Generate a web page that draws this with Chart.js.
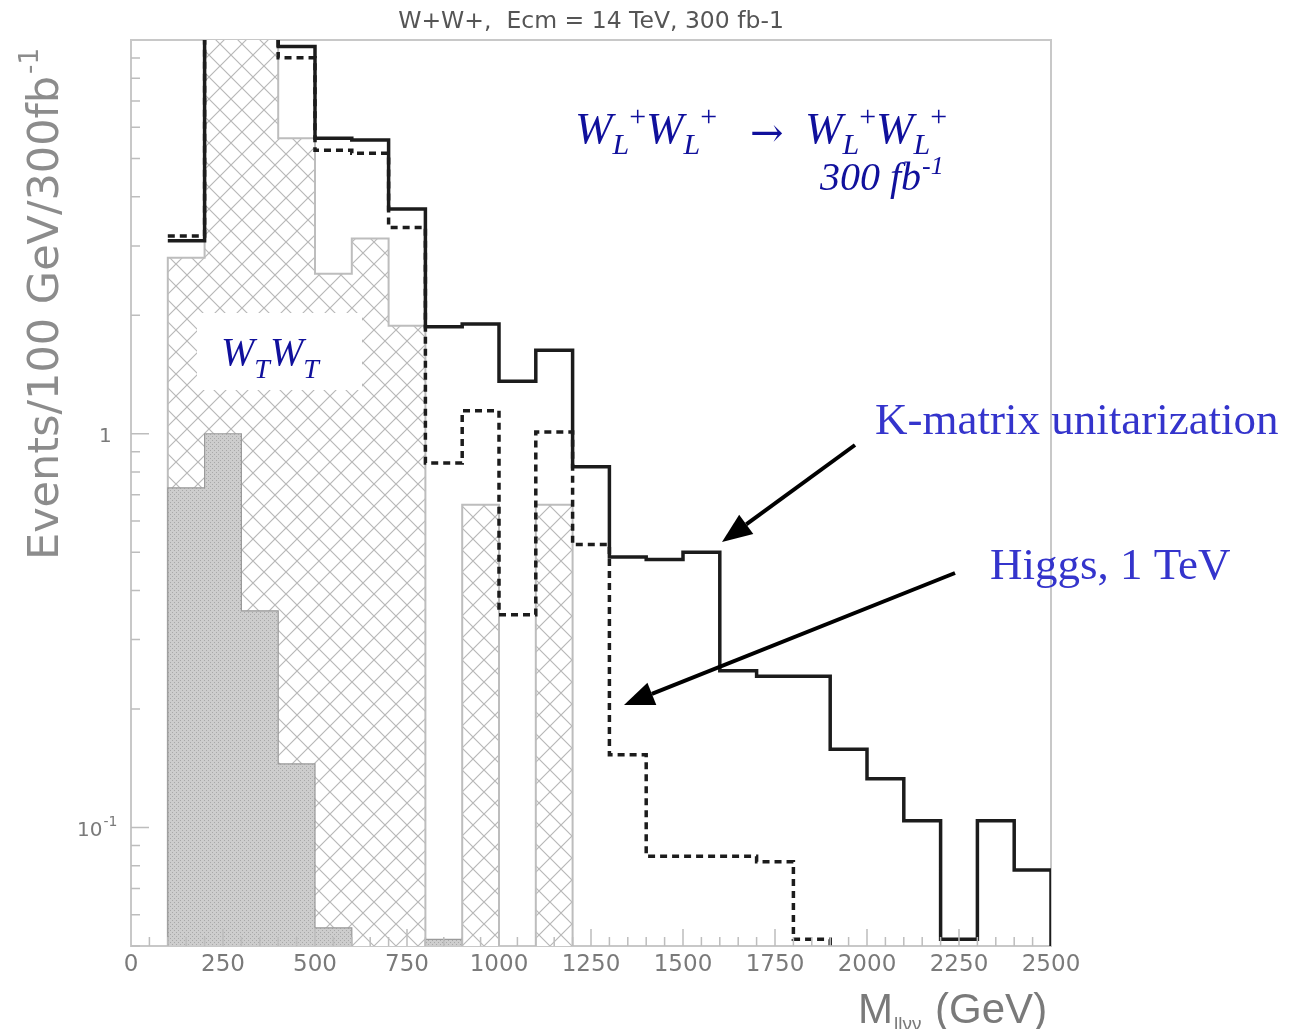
<!DOCTYPE html>
<html>
<head>
<meta charset="utf-8">
<title>W+W+ Mllvv</title>
<script src="https://cdn.jsdelivr.net/npm/chart.js@4/dist/chart.umd.min.js"></script>
<style>
  html, body { margin: 0; padding: 0; background: #fff; }
  canvas { display: block; }
</style>
</head>
<body>
<canvas id="myChart" width="1289" height="1029"></canvas>
<script>
// Bordes de los bins (GeV), bins de 100 GeV
const binEdges = [100, 200, 300, 400, 500, 600, 700, 800, 900, 1000, 1100, 1200, 1300,
  1400, 1500, 1600, 1700, 1800, 1900, 2000, 2100, 2200, 2300, 2400, 2500];

// Eventos / 100 GeV / 300 fb-1 por bin (0 = bin vacio)
const kMatrix = [3.09, 14, 12, 9.62, 5.63, 5.57, 3.72, 1.87, 1.90, 1.36, 1.63, 0.824,
  0.486, 0.479, 0.50, 0.25, 0.242, 0.242, 0.158, 0.133, 0.104, 0.052, 0.104, 0.078];
const higgs1TeV = [3.18, 13, 11, 9.02, 5.25, 5.16, 3.34, 0.843, 1.144, 0.347, 1.01, 0.523,
  0.153, 0.0845, 0.0845, 0.0845, 0.0818, 0.052, 0, 0, 0, 0, 0, 0];
const wtwt = [2.80, 11, 11, 5.63, 2.55, 3.13, 1.88, 0, 0.66, 0, 0.66, 0,
  0, 0, 0, 0, 0, 0, 0, 0, 0, 0, 0, 0];
const shaded = [0.729, 1.0, 0.355, 0.145, 0.0556, 0, 0, 0.052, 0, 0, 0, 0,
  0, 0, 0, 0, 0, 0, 0, 0, 0, 0, 0, 0];

// Ejes
const xTickValues = [0, 250, 500, 750, 1000, 1250, 1500, 1750, 2000, 2250, 2500];
const xTickLabels = ['0', '250', '500', '750', '1000', '1250', '1500', '1750', '2000', '2250', '2500'];
const yMajorTicks = [0.1, 1];
const yMinorTicks = [0.05, 0.06, 0.07, 0.08, 0.09, 0.2, 0.3, 0.4, 0.5, 0.6, 0.7, 0.8, 0.9,
  2, 3, 4, 5, 6, 7, 8, 9];

const FLOOR = 0.001; // por debajo del minimo del eje, queda recortado

// Convierte los contenidos de los bins en puntos para una linea escalonada
function toSteps(values, closeLeft) {
  const pts = [];
  if (closeLeft) pts.push({ x: binEdges[0], y: FLOOR });
  values.forEach((v, i) => pts.push({ x: binEdges[i], y: v > 0 ? v : FLOOR }));
  const last = values[values.length - 1];
  const end = binEdges[binEdges.length - 1];
  pts.push({ x: end, y: last > 0 ? last : FLOOR });
  pts.push({ x: end, y: FLOOR });
  return pts;
}

function hatchPattern() {
  const c = document.createElement('canvas');
  c.width = 22; c.height = 22;
  const g = c.getContext('2d');
  g.fillStyle = '#fff';
  g.fillRect(0, 0, 22, 22);
  g.strokeStyle = '#b8b8b8';
  g.lineWidth = 1.2;
  g.beginPath();
  g.moveTo(-2, -2); g.lineTo(24, 24);
  g.moveTo(24, -2); g.lineTo(-2, 24);
  g.stroke();
  return g.createPattern(c, 'repeat');
}

function dotPattern() {
  const c = document.createElement('canvas');
  c.width = 4; c.height = 4;
  const g = c.getContext('2d');
  g.fillStyle = '#cdcdcd';
  g.fillRect(0, 0, 4, 4);
  g.fillStyle = '#a8a8a8';
  g.fillRect(0, 0, 1, 1);
  g.fillRect(2, 2, 1, 1);
  return g.createPattern(c, 'repeat');
}

// Texto con subindices / superindices
function rich(ctx, x, y, runs) {
  runs.forEach(r => {
    ctx.font = r.font;
    ctx.fillText(r.t, x, y + (r.dy || 0));
    x += ctx.measureText(r.t).width + (r.gap || 0);
  });
  return x;
}

function arrow(ctx, x0, y0, x1, y1) {
  const a = Math.atan2(y1 - y0, x1 - x0);
  const len = 30, half = 12;
  const bx = x1 - len * Math.cos(a), by = y1 - len * Math.sin(a);
  ctx.beginPath();
  ctx.moveTo(x0, y0);
  ctx.lineTo(bx, by);
  ctx.lineWidth = 4;
  ctx.strokeStyle = '#000';
  ctx.stroke();
  ctx.beginPath();
  ctx.moveTo(x1, y1);
  ctx.lineTo(bx + half * Math.sin(a), by - half * Math.cos(a));
  ctx.lineTo(bx - half * Math.sin(a), by + half * Math.cos(a));
  ctx.closePath();
  ctx.fillStyle = '#000';
  ctx.fill();
}

const decorations = {
  id: 'decorations',
  beforeDatasetsDraw(chart) {
    const { ctx, chartArea: a } = chart;
    ctx.save();
    ctx.strokeStyle = '#c8c8c8';
    ctx.lineWidth = 2;
    ctx.strokeRect(a.left, a.top, a.right - a.left, a.bottom - a.top);
    ctx.restore();
  },
  afterDatasetsDraw(chart) {
    const { ctx, chartArea: a } = chart;
    const xs = chart.scales.x, ys = chart.scales.y;
    ctx.save();

    // marcas del eje x (cada 50 GeV, largas cada 250)
    ctx.strokeStyle = '#bdbdbd';
    ctx.lineWidth = 1.5;
    ctx.beginPath();
    for (let v = 50; v < 2500; v += 50) {
      const px = xs.getPixelForValue(v);
      const l = v % 250 === 0 ? 17 : 9;
      ctx.moveTo(px, a.bottom);
      ctx.lineTo(px, a.bottom - l);
    }
    // marcas del eje y
    yMinorTicks.forEach(v => {
      const py = ys.getPixelForValue(v);
      ctx.moveTo(a.left, py);
      ctx.lineTo(a.left + 9, py);
    });
    yMajorTicks.forEach(v => {
      const py = ys.getPixelForValue(v);
      ctx.moveTo(a.left, py);
      ctx.lineTo(a.left + 18, py);
    });
    ctx.stroke();

    // etiquetas del eje y
    ctx.fillStyle = '#7a7a7a';
    ctx.textBaseline = 'alphabetic';
    ctx.textAlign = 'left';
    let py = ys.getPixelForValue(1);
    ctx.font = '20px "DejaVu Sans"';
    ctx.fillText('1', 99, py + 8);
    py = ys.getPixelForValue(0.1);
    rich(ctx, 77, py + 9, [
      { t: '10', font: '20px "DejaVu Sans"', gap: 1 },
      { t: '-1', font: '14px "DejaVu Sans"', dy: -10 }
    ]);

    // titulo
    ctx.fillStyle = '#555';
    ctx.textAlign = 'center';
    ctx.font = '23.5px "DejaVu Sans"';
    ctx.fillText('W+W+,  Ecm = 14 TeV, 300 fb-1', (a.left + a.right) / 2, 28);

    // titulo eje y
    ctx.textAlign = 'left';
    ctx.fillStyle = '#8c8c8c';
    ctx.save();
    ctx.translate(58, 560);
    ctx.rotate(-Math.PI / 2);
    rich(ctx, 0, 0, [
      { t: 'Events/100 GeV/300fb', font: '43px "DejaVu Sans"', gap: 2 },
      { t: '-1', font: '26px "DejaVu Sans"', dy: -20 }
    ]);
    ctx.restore();

    // titulo eje x
    ctx.fillStyle = '#7a7a7a';
    rich(ctx, 858, 1023, [
      { t: 'M', font: '42px "Liberation Sans"', gap: 1 },
      { t: 'llνν', font: '19px "Liberation Sans"', dy: 7, gap: 2 },
      { t: ' (GeV)', font: '42px "Liberation Sans"' }
    ]);

    // W_T W_T
    ctx.fillStyle = '#fff';
    ctx.fillRect(197, 313, 165, 77);
    ctx.fillStyle = '#10109c';
    const wBig = 'italic 40px "Liberation Serif"';
    const tSub = 'italic 28px "Liberation Serif"';
    rich(ctx, 221, 365, [
      { t: 'W', font: wBig },
      { t: 'T', font: tSub, dy: 13 },
      { t: 'W', font: wBig },
      { t: 'T', font: tSub, dy: 13 }
    ]);

    // W_L+ W_L+ -> W_L+ W_L+
    const W = 'italic 45px "Liberation Serif"';
    const L = 'italic 30px "Liberation Serif"';
    const P = '30px "Liberation Serif"';
    const pair = [
      { t: 'W', font: W },
      { t: 'L', font: L, dy: 11 },
      { t: '+', font: P, dy: -17 },
      { t: 'W', font: W },
      { t: 'L', font: L, dy: 11 },
      { t: '+', font: P, dy: -17 }
    ];
    rich(ctx, 575, 143, pair);
    ctx.font = '40px "DejaVu Serif"';
    ctx.fillText('→', 750, 146);
    rich(ctx, 805, 143, pair);
    rich(ctx, 820, 190, [
      { t: '300 fb', font: 'italic 40px "Liberation Serif"', gap: 1 },
      { t: '-1', font: 'italic 26px "Liberation Serif"', dy: -16 }
    ]);

    // etiquetas con flechas
    ctx.fillStyle = '#3434cc';
    ctx.font = '45px "Liberation Serif"';
    ctx.fillText('K-matrix unitarization', 875, 434);
    ctx.fillText('Higgs, 1 TeV', 990, 579);
    arrow(ctx, 855, 445, 722, 542);
    arrow(ctx, 955, 573, 624, 705);

    ctx.restore();
  }
};

const ctx = document.getElementById('myChart').getContext('2d');
new Chart(ctx, {
  type: 'line',
  data: {
    datasets: [
      {
        label: 'W_T W_T',
        data: toSteps(wtwt, true),
        stepped: true,
        fill: 'start',
        backgroundColor: hatchPattern(),
        borderColor: '#bdbdbd',
        borderWidth: 2,
        order: 4,
        clip: 0
      },
      {
        label: 'fondo',
        data: toSteps(shaded, true),
        stepped: true,
        fill: 'start',
        backgroundColor: dotPattern(),
        borderColor: '#9a9a9a',
        borderWidth: 1.2,
        order: 3,
        clip: 0
      },
      {
        label: 'Higgs, 1 TeV',
        data: toSteps(higgs1TeV, false),
        stepped: true,
        fill: false,
        borderColor: '#1c1c1c',
        borderWidth: 3.5,
        borderDash: [7, 5],
        order: 2,
        clip: 0
      },
      {
        label: 'K-matrix unitarization',
        data: toSteps(kMatrix, false),
        stepped: true,
        fill: false,
        borderColor: '#1c1c1c',
        borderWidth: 3.5,
        order: 1,
        clip: 0
      }
    ]
  },
  options: {
    responsive: false,
    animation: false,
    devicePixelRatio: 1,
    layout: { padding: { top: 40, right: 238, bottom: 0, left: 0 } },
    elements: { point: { radius: 0 }, line: { tension: 0 } },
    plugins: {
      legend: { display: false },
      tooltip: { enabled: false }
    },
    scales: {
      x: {
        type: 'linear',
        min: 0,
        max: 2500,
        afterBuildTicks: s => { s.ticks = xTickValues.map(v => ({ value: v })); },
        afterFit: s => { s.height = 83; },
        grid: { display: false, drawTicks: false },
        border: { display: false },
        ticks: {
          autoSkip: false,
          maxRotation: 0,
          padding: 5,
          color: '#7a7a7a',
          font: { family: 'DejaVu Sans', size: 23 },
          callback: (v, i) => xTickLabels[i]
        }
      },
      y: {
        type: 'logarithmic',
        min: 0.05,
        max: 10,
        afterFit: s => { s.width = 131; },
        grid: { display: false, drawTicks: false },
        border: { display: false },
        ticks: { display: false }
      }
    }
  },
  plugins: [decorations]
});
</script>
</body>
</html>
